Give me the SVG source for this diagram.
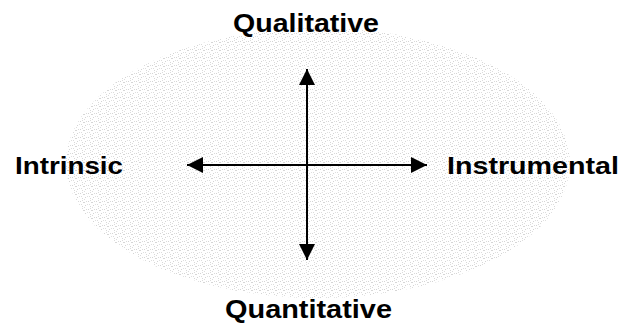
<svg xmlns="http://www.w3.org/2000/svg" width="623" height="325" viewBox="0 0 623 325">
<style>
.lbl{font-family:"Liberation Sans",Arial,sans-serif;font-weight:bold;fill:#000}
.ax{stroke:#000;stroke-width:2;fill:none}
</style>
<defs>
<pattern id="tex" width="8" height="8" patternUnits="userSpaceOnUse">
<rect width="8" height="8" fill="#ffffff"/>
<rect x="0" y="1" width="1" height="1" fill="#d4d4d4"/>
<rect x="2" y="0" width="1" height="1" fill="#dcdcdc"/>
<rect x="3" y="2" width="2" height="1" fill="#d6d6d6"/>
<rect x="6" y="1" width="1" height="1" fill="#dadada"/>
<rect x="1" y="4" width="1" height="1" fill="#dcdcdc"/>
<rect x="5" y="5" width="1" height="1" fill="#d4d4d4"/>
<rect x="7" y="4" width="1" height="1" fill="#e0e0e0"/>
<rect x="2" y="6" width="1" height="1" fill="#d8d8d8"/>
<rect x="4" y="7" width="1" height="1" fill="#dcdcdc"/>
</pattern>
<marker id="ah" viewBox="0 0 16 16" refX="16" refY="8" markerWidth="16" markerHeight="16" markerUnits="userSpaceOnUse" orient="auto-start-reverse">
<path d="M0,0 L16,8 L0,16 Z" fill="#000"/>
</marker>
</defs>
<g id="background">
<ellipse cx="318" cy="163" rx="252" ry="135" fill="url(#tex)"/>
</g>
<g id="connectors">
<line class="ax" x1="307" y1="69" x2="307" y2="260" marker-start="url(#ah)" marker-end="url(#ah)"/>
<line class="ax" x1="187" y1="165" x2="427" y2="165" marker-start="url(#ah)" marker-end="url(#ah)"/>
</g>
<g id="qualitative">
<text class="lbl" x="233" y="32" font-size="26" textLength="146" lengthAdjust="spacingAndGlyphs">Qualitative</text>
</g>
<g id="quantitative">
<text class="lbl" x="225" y="318" font-size="25" textLength="167" lengthAdjust="spacingAndGlyphs">Quantitative</text>
</g>
<g id="intrinsic">
<text class="lbl" x="15" y="174" font-size="24" textLength="108" lengthAdjust="spacingAndGlyphs">Intrinsic</text>
</g>
<g id="instrumental">
<text class="lbl" x="447" y="174" font-size="24" textLength="172" lengthAdjust="spacingAndGlyphs">Instrumental</text>
</g>
</svg>
